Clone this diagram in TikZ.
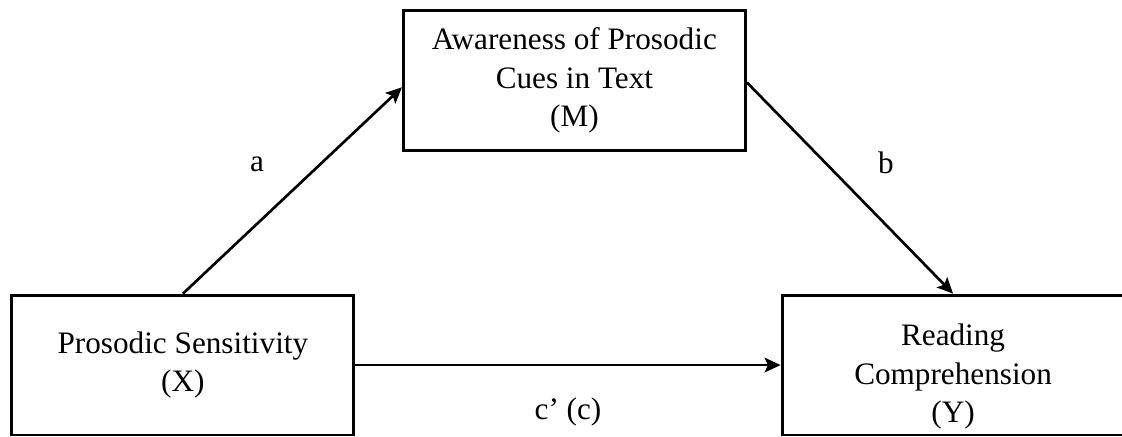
\documentclass[tikz,border=0pt]{standalone}
\usepackage{fontspec}
\setmainfont{Liberation Serif}
\usetikzlibrary{arrows.meta,positioning,calc}

\tikzset{
  box/.style={draw, line width=2.2pt, minimum width=9.05cm, minimum height=3.7cm,
    align=center, font=\fontsize{23.5}{29}\selectfont},
  lbl/.style={font=\fontsize{23.5}{29}\selectfont},
  conn/.style={->, line width=2pt}
}

\begin{document}
\begin{tikzpicture}[>={Stealth[length=12pt,width=11pt,inset=2.5pt]}]
  \useasboundingbox (0,0) rectangle (29.69,11.54);
  \node[box] (M) at (15.20,9.41) {Awareness of Prosodic\\Cues in Text\\(M)};
  \node[box] (X) at (4.84,1.88) {Prosodic Sensitivity\\(X)};
  \node[box] (Y) at (25.22,1.88) {\rule{0pt}{1.2cm}Reading\\Comprehension\\(Y)};
  \draw[conn] (X.north) -- ([yshift=-0.18cm]M.west);
  \draw[conn] ([yshift=-0.05cm]M.east) -- (Y.north);
  \draw[conn] (X.east) -- (Y.west);
  \node[lbl] (la) at (6.80,7.20) {a};
  \node[lbl] (lb) at (23.44,7.22) {b};
  \node[lbl] (lc) at (15.03,0.64) {c’ (c)};
\end{tikzpicture}
\end{document}
